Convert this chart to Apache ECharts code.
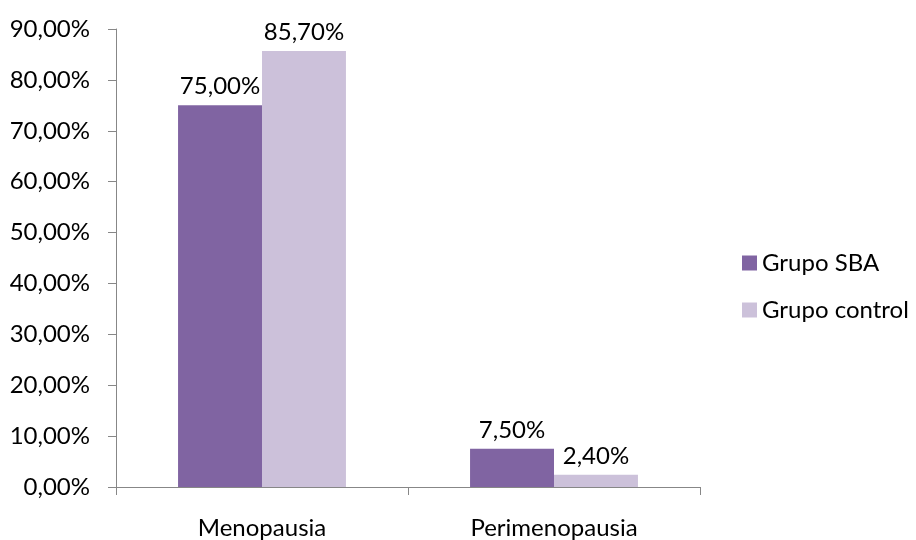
<!DOCTYPE html>
<html>
<head>
<meta charset="utf-8">
<script src="https://cdn.jsdelivr.net/npm/echarts@6/dist/echarts.min.js"></script>
<style>
  html, body { margin: 0; padding: 0; background: #ffffff; }
  #chart { width: 916px; height: 540px; }
</style>
</head>
<body>
<div id="chart"></div>
<script>
// Menopausal status by study group (percent)
const categories = ['Menopausia', 'Perimenopausia'];
const seriesNames = ['Grupo SBA', 'Grupo control'];
const grupoSBA = [75.0, 7.5];
const grupoControl = [85.7, 2.4];
const yTicks = [0, 10, 20, 30, 40, 50, 60, 70, 80, 90];

const FONT = 'Lato, "Open Sans", sans-serif';
const FS = 24;
const pct = v => v.toFixed(2).replace('.', ',') + '%';

const chart = echarts.init(document.getElementById('chart'));
chart.setOption({
  animation: false,
  backgroundColor: '#ffffff',
  grid: { left: 116, right: 216, top: 29, bottom: 53, containLabel: false },
  legend: {
    orient: 'vertical',
    left: 737,
    top: 246,
    itemWidth: 15,
    itemHeight: 15,
    itemGap: 23,
    icon: 'rect',
    textStyle: { fontFamily: FONT, fontSize: 24, color: '#000000' },
    data: seriesNames
  },
  xAxis: {
    type: 'category',
    data: categories,
    axisLine: { lineStyle: { color: '#878787', width: 1 } },
    axisTick: { show: true, length: 8, alignWithLabel: false, lineStyle: { color: '#878787' } },
    axisLabel: { margin: 29, fontFamily: FONT, fontSize: FS, color: '#000000' }
  },
  yAxis: {
    type: 'value',
    min: yTicks[0],
    max: yTicks[yTicks.length - 1],
    interval: 10,
    splitLine: { show: false },
    axisLine: { show: true, lineStyle: { color: '#878787', width: 1 } },
    axisTick: { show: true, length: 8, lineStyle: { color: '#878787' } },
    axisLabel: { margin: 26, fontFamily: FONT, fontSize: FS, color: '#000000', formatter: v => pct(v) }
  },
  series: [
    {
      name: seriesNames[0],
      type: 'bar',
      data: grupoSBA,
      barGap: '0%',
      barCategoryGap: '42.5%',
      itemStyle: { color: '#8064A2' },
      label: { show: true, position: 'top', distance: 7, fontFamily: FONT, fontSize: FS, color: '#000000', formatter: p => pct(p.value) }
    },
    {
      name: seriesNames[1],
      type: 'bar',
      data: grupoControl,
      barGap: '0%',
      barCategoryGap: '42.5%',
      itemStyle: { color: '#CCC1DA' },
      label: { show: true, position: 'top', distance: 7, fontFamily: FONT, fontSize: FS, color: '#000000', formatter: p => pct(p.value) }
    }
  ]
});
</script>
</body>
</html>
